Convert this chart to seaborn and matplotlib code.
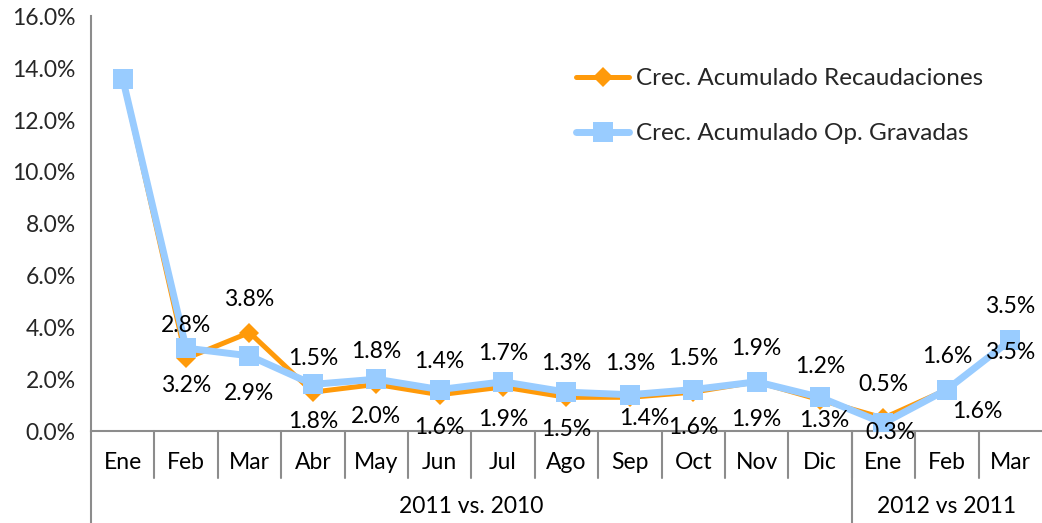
import matplotlib
matplotlib.use("Agg")
import matplotlib.pyplot as plt
import seaborn as sns
import pandas as pd
import numpy as np

# Cumulative growth, monthly, two comparison periods
months = ["Ene", "Feb", "Mar", "Abr", "May", "Jun", "Jul", "Ago", "Sep",
          "Oct", "Nov", "Dic", "Ene", "Feb", "Mar"]
groups = ["2011 vs. 2010", "2012 vs 2011"]
group_sizes = [12, 3]
recaudaciones = [13.6, 2.8, 3.8, 1.5, 1.8, 1.4, 1.7, 1.3, 1.3, 1.5, 1.9, 1.2, 0.5, 1.6, 3.5]
op_gravadas = [13.6, 3.2, 2.9, 1.8, 2.0, 1.6, 1.9, 1.5, 1.4, 1.6, 1.9, 1.3, 0.3, 1.6, 3.5]
series_names = ["Crec. Acumulado Recaudaciones", "Crec. Acumulado Op. Gravadas"]

sns.set_style("white")
plt.rcParams["font.family"] = ["Lato", "DejaVu Sans"]

ORANGE = "#FF9A0A"
BLUE = "#99CCFF"
AXIS = "#8C8C8C"
FS = 16.5

fig = plt.figure(figsize=(10.42, 5.23), dpi=100)
ax = fig.add_axes([0.0873, 0.1759, 0.9127, 0.7927])

pos = np.arange(len(months))
df = pd.DataFrame({"pos": pos, "rec": recaudaciones, "op": op_gravadas})

sns.lineplot(data=df, x="pos", y="rec", ax=ax, color=ORANGE, linewidth=3.6,
             marker="D", markersize=10, markeredgewidth=0, label=series_names[0],
             zorder=3)
sns.lineplot(data=df, x="pos", y="op", ax=ax, color=BLUE, linewidth=5,
             marker="s", markersize=14, markeredgewidth=0, label=series_names[1],
             zorder=4)

# Label offsets in points (dx, dy); first point carries no labels
above_offsets = [(0, 24)] * len(months)
below_offsets = [(0, -27)] * len(months)
below_offsets[8] = (10, -17)
below_offsets[11] = (3, -17)
below_offsets[12] = (5, -7)
below_offsets[13] = (22, -16)
below_offsets[14] = (0, -9)

for i in range(1, len(months)):
    ax.annotate(f"{recaudaciones[i]:.1f}%", (pos[i], recaudaciones[i]),
                xytext=above_offsets[i], textcoords="offset points",
                ha="center", va="center", fontsize=FS, color="black", zorder=6)
    ax.annotate(f"{op_gravadas[i]:.1f}%", (pos[i], op_gravadas[i]),
                xytext=below_offsets[i], textcoords="offset points",
                ha="center", va="center", fontsize=FS, color="black", zorder=6)

ax.set_xlim(-0.5, len(months) - 0.5)
ax.set_ylim(0, 16)
ax.set_yticks(np.arange(0, 16.1, 2))
ax.set_yticklabels([f"{v:.1f}%" for v in np.arange(0, 16.1, 2)], fontsize=FS)
ax.tick_params(axis="y", direction="out", length=5, width=1.5, color=AXIS, pad=6)
ax.set_xticks([])
ax.set_xlabel("")
ax.set_ylabel("")

for side in ["top", "right"]:
    ax.spines[side].set_visible(False)
ax.spines["left"].set_color(AXIS)
ax.spines["left"].set_linewidth(1.5)
ax.spines["bottom"].set_color(AXIS)
ax.spines["bottom"].set_linewidth(1.5)

# Two-level category axis
trans = ax.get_xaxis_transform()
for i, m in enumerate(months):
    ax.text(i, -0.075, m, transform=trans, ha="center", va="center",
            fontsize=FS, color="black")
for b in range(1, len(months)):
    ax.plot([b - 0.5, b - 0.5], [0, -0.113], transform=trans, color=AXIS,
            lw=1.5, clip_on=False)
# Left axis spine extended through both label rows
ax.plot([-0.5, -0.5], [0, -0.23], transform=trans, color=AXIS, lw=1.5, clip_on=False)
start = 0
for g, n in zip(groups, group_sizes):
    center = start + (n - 1) / 2
    ax.text(center, -0.183, g, transform=trans, ha="center", va="center",
            fontsize=FS, color="black")
    start += n
    if start < len(months):
        ax.plot([start - 0.5, start - 0.5], [0, -0.23], transform=trans,
                color=AXIS, lw=1.5, clip_on=False)

leg = ax.legend(loc="upper left", bbox_to_anchor=(0.51, 0.875), frameon=False,
                fontsize=17.5, handlelength=2.2, handletextpad=0.25,
                labelspacing=1.4, borderaxespad=0, borderpad=0)

fig.savefig("out.png", dpi=100)
